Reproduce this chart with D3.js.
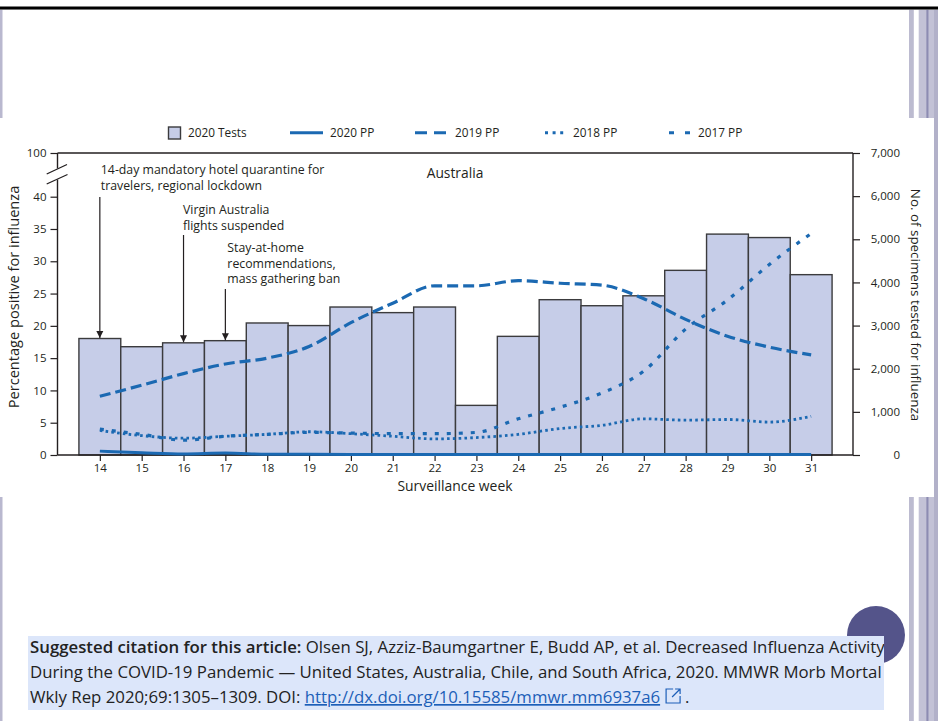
<!DOCTYPE html>
<html>
<head>
<meta charset="utf-8">
<script src="https://cdn.jsdelivr.net/npm/d3@7"></script>
<style>
  html, body { margin: 0; padding: 0; background: #fff; }
  svg { display: block; }
  text { font-family: "Open Sans", "Noto Sans", sans-serif; }
</style>
</head>
<body>
<svg id="page" width="938" height="721"></svg>
<script>
// Surveillance weeks and weekly series (Australia, 2017–2020)
const weeks = [14, 15, 16, 17, 18, 19, 20, 21, 22, 23, 24, 25, 26, 27, 28, 29, 30, 31];
const tests2020 = [2700, 2510, 2600, 2650, 3060, 3000, 3430, 3300, 3430, 1150, 2750, 3600, 3460, 3690, 4280, 5120, 5040, 4180];
const pp2020 = [0.6, 0.35, 0.15, 0.3, 0.12, 0.1, 0.08, 0.08, 0.08, 0.08, 0.08, 0.08, 0.08, 0.08, 0.08, 0.08, 0.08, 0.08];
const pp2019 = [9.1, 10.8, 12.6, 14.1, 15.0, 16.8, 20.5, 23.5, 26.2, 26.2, 27.0, 26.6, 26.3, 24.2, 21.0, 18.4, 16.7, 15.5];
const pp2018 = [3.8, 3.0, 2.6, 2.9, 3.2, 3.6, 3.3, 2.9, 2.5, 2.7, 3.2, 4.1, 4.6, 5.6, 5.4, 5.5, 5.1, 6.0];
const pp2017 = [4.0, 3.2, 2.3, 2.9, 3.2, 3.5, 3.4, 3.3, 3.3, 3.5, 5.6, 7.4, 9.6, 13.0, 19.5, 24.0, 29.5, 34.3];
const leftTicks = [0, 5, 10, 15, 20, 25, 30, 35, 40, 100];
const rightTicks = [0, 1000, 2000, 3000, 4000, 5000, 6000, 7000];
const legendLabels = ["2020 Tests", "2020 PP", "2019 PP", "2018 PP", "2017 PP"];
const events = [
  { week: 14, lines: ["14-day mandatory hotel quarantine for", "travelers, regional lockdown"] },
  { week: 16, lines: ["Virgin Australia", "flights suspended"] },
  { week: 17, lines: ["Stay-at-home", "recommendations,", "mass gathering ban"] }
];

const BLUE = "#1b69b2";
const BAR_FILL = "#c6cde8";
const INK = "#231f20";

const svg = d3.select("#page");

// ---------- slide decoration ----------
svg.append("rect").attr("x", 0).attr("y", 0).attr("width", 938).attr("height", 721).attr("fill", "#fff");
svg.append("rect").attr("x", 0).attr("y", 9).attr("width", 2.5).attr("height", 712).attr("fill", "#b9b8cf");
const rails = [
  { x: 909, w: 4.8, c: "#bcbbd0" },
  { x: 918.7, w: 7.5, c: "#c3c2d6" },
  { x: 926.2, w: 2.6, c: "#8d8cb2" },
  { x: 928.8, w: 5.2, c: "#c3c2d6" },
  { x: 934, w: 4, c: "#b2b1c9" }
];
rails.forEach(r => svg.append("rect").attr("x", r.x).attr("y", 9).attr("width", r.w).attr("height", 712).attr("fill", r.c));
svg.append("rect").attr("x", 0).attr("y", 6.5).attr("width", 938).attr("height", 2.6).attr("fill", "#000");
svg.append("rect").attr("x", 0).attr("y", 9.1).attr("width", 938).attr("height", 0.9).attr("fill", "#666");

// chart panel
svg.append("rect").attr("x", 0).attr("y", 118).attr("width", 934).attr("height", 379).attr("fill", "#fff");

// ---------- scales ----------
const x = d3.scaleLinear().domain([13, 32]).range([58, 853]);
const yL = d3.scaleLinear().domain([0, 40, 100]).range([455, 196.7, 153]);
const yR = d3.scaleLinear().domain([0, 7000]).range([455, 153]);
const step = x(15) - x(14);
const frameL = 57.5, frameR = 853, frameT = 153, frameB = 455;

const g = svg.append("g");

// bars: specimens tested
g.selectAll("rect.bar").data(weeks).join("rect")
  .attr("class", "bar")
  .attr("x", (w) => x(w) - step / 2)
  .attr("width", step)
  .attr("y", (w, i) => yR(tests2020[i]))
  .attr("height", (w, i) => yR(0) - yR(tests2020[i]))
  .attr("fill", BAR_FILL)
  .attr("stroke", "#3b3b3d")
  .attr("stroke-width", 1.4);

// ---------- axes ----------
const axisStyle = sel => {
  sel.selectAll("text").attr("font-size", 11.5).attr("fill", INK);
  sel.selectAll("line").attr("stroke", INK).attr("stroke-width", 1.2);
};

const gl = g.append("g").attr("transform", `translate(${frameL},0)`)
  .call(d3.axisLeft(yL).tickValues(leftTicks).tickSize(7).tickPadding(4));
gl.select(".domain").remove();
axisStyle(gl);

const gr = g.append("g").attr("transform", `translate(${frameR},0)`)
  .call(d3.axisRight(yR).tickValues(rightTicks).tickSize(7).tickFormat(d3.format(",")));
gr.select(".domain").remove();
gr.selectAll("text").attr("text-anchor", "end").attr("x", 47);
axisStyle(gr);

const gb = g.append("g").attr("transform", `translate(0,${frameB})`)
  .call(d3.axisBottom(x).tickValues(weeks).tickSize(6).tickPadding(3).tickFormat(d3.format("d")));
gb.select(".domain").remove();
axisStyle(gb);

// frame lines
const frame = [
  [frameL, frameT, frameR, frameT],
  [frameR, frameT, frameR, frameB],
  [frameL, frameB, frameR, frameB],
  [frameL, frameT, frameL, 168.5],
  [frameL, 179.5, frameL, frameB]
];
frame.forEach(([x1, y1, x2, y2]) => g.append("line")
  .attr("x1", x1).attr("y1", y1).attr("x2", x2).attr("y2", y2)
  .attr("stroke", INK).attr("stroke-width", 1.4));

// axis break marks
[[46.7, 174, 67, 164.5], [46.7, 184, 67.5, 174.5]].forEach(([x1, y1, x2, y2]) =>
  g.append("line").attr("x1", x1).attr("y1", y1).attr("x2", x2).attr("y2", y2)
    .attr("stroke", INK).attr("stroke-width", 1.3));

// ---------- percentage-positive lines ----------
const line = d3.line().x((d) => x(d[0])).y((d) => yL(d[1])).curve(d3.curveMonotoneX);
const series = [
  { values: pp2017, dash: "4,8", width: 3.2 },
  { values: pp2018, dash: "2.6,3.2", width: 2.8 },
  { values: pp2019, dash: "11,5", width: 3.2 },
  { values: pp2020, dash: null, width: 3 }
];
series.forEach(s => {
  g.append("path")
    .datum(weeks.map((w, i) => [w, s.values[i]]))
    .attr("d", line)
    .attr("fill", "none")
    .attr("stroke", BLUE)
    .attr("stroke-width", s.width)
    .attr("stroke-dasharray", s.dash);
});

// ---------- axis titles and panel title ----------
g.append("text").attr("transform", "translate(19,297) rotate(-90)")
  .attr("text-anchor", "middle").attr("font-size", 14.6).attr("fill", INK)
  .text("Percentage positive for influenza");
g.append("text").attr("transform", "translate(911,305) rotate(90)")
  .attr("text-anchor", "middle").attr("font-size", 13.4).attr("fill", INK)
  .text("No. of specimens tested for influenza");
g.append("text").attr("x", 455).attr("y", 491)
  .attr("text-anchor", "middle").attr("font-size", 13.9).attr("fill", INK)
  .text("Surveillance week");
g.append("text").attr("x", 455).attr("y", 178)
  .attr("text-anchor", "middle").attr("font-size", 13.8).attr("fill", INK)
  .text("Australia");

// ---------- event annotations ----------
const defs = svg.append("defs");
defs.append("marker").attr("id", "arrowhead")
  .attr("viewBox", "0 0 10 10").attr("refX", 10).attr("refY", 5)
  .attr("markerWidth", 7).attr("markerHeight", 9).attr("markerUnits", "userSpaceOnUse")
  .attr("orient", "auto")
  .append("path").attr("d", "M0,0 L10,5 L0,10 Z").attr("fill", INK);

const eventLayout = [
  { dx: 1, y0: 174, y1: 197 },
  { dx: -0.5, y0: 214, y1: 235 },
  { dx: 2, y0: 252, y1: 289 }
];
events.forEach((ev, k) => {
  const L = eventLayout[k];
  const i = weeks.indexOf(ev.week);
  const t = g.append("text").attr("font-size", 12.3).attr("fill", INK);
  ev.lines.forEach((s, j) => t.append("tspan").attr("x", x(ev.week) + L.dx).attr("y", L.y0 + j * 15.5).text(s));
  g.append("line")
    .attr("x1", x(ev.week)).attr("y1", L.y1)
    .attr("x2", x(ev.week)).attr("y2", yR(tests2020[i]) - 0.5)
    .attr("stroke", INK).attr("stroke-width", 1.2)
    .attr("marker-end", "url(#arrowhead)");
});

// ---------- legend ----------
const lg = g.append("g").attr("font-size", 11.8).attr("fill", INK);
lg.append("rect").attr("x", 168.5).attr("y", 127).attr("width", 12).attr("height", 12)
  .attr("fill", BAR_FILL).attr("stroke", "#3b3b3d").attr("stroke-width", 1.4);
const legendItems = [
  { x0: 188, label: legendLabels[0] },
  { x0: 290, x1: 323, tx: 330, dash: null, label: legendLabels[1] },
  { x0: 415, x1: 447, tx: 455, dash: "12,7", label: legendLabels[2] },
  { x0: 545, x1: 567, tx: 573, dash: "3,4.6", label: legendLabels[3] },
  { x0: 669, x1: 690, tx: 698, dash: "5,11", label: legendLabels[4] }
];
legendItems.forEach((it, k) => {
  if (k > 0) {
    lg.append("line").attr("x1", it.x0).attr("x2", it.x1).attr("y1", 132.7).attr("y2", 132.7)
      .attr("stroke", BLUE).attr("stroke-width", 3).attr("stroke-dasharray", it.dash);
  }
  lg.append("text").attr("x", k > 0 ? it.tx : it.x0).attr("y", 137).attr("fill", INK).text(it.label);
});

// ---------- citation ----------
svg.append("circle").attr("cx", 876).attr("cy", 635).attr("r", 29).attr("fill", "#54548a");
svg.append("rect").attr("x", 28).attr("y", 636).attr("width", 856).attr("height", 74).attr("fill", "#dce6fa");
defs.append("clipPath").attr("id", "citeClip")
  .append("rect").attr("x", 28).attr("y", 630).attr("width", 856).attr("height", 85);
const cite = svg.append("g").attr("clip-path", "url(#citeClip)").attr("font-size", 16.8).attr("fill", "#222");
const l1 = cite.append("text").attr("x", 30).attr("y", 653);
l1.append("tspan").attr("font-weight", 600).text("Suggested citation for this article:");
l1.append("tspan").text(" Olsen SJ, Azziz-Baumgartner E, Budd AP, et al. Decreased Influenza Activity");
cite.append("text").attr("x", 30).attr("y", 678)
  .text("During the COVID-19 Pandemic \u2014 United States, Australia, Chile, and South Africa, 2020. MMWR Morb Mortal");
const l3 = cite.append("text").attr("x", 30).attr("y", 703);
l3.append("tspan").text("Wkly Rep 2020;69:1305\u20131309. DOI: ");
l3.append("tspan").attr("fill", "#1d5fb8").attr("text-decoration", "underline")
  .text("http://dx.doi.org/10.15585/mmwr.mm6937a6");
const l3box = l3.node().getBBox();
const ix = l3box.x + l3box.width + 6;
const icon = cite.append("g").attr("fill", "none").attr("stroke", "#1d5fb8").attr("stroke-width", 1.2);
icon.append("path").attr("d", `M${ix + 7},${689} H${ix} V${703} H${ix + 14} V${696}`);
icon.append("path").attr("d", `M${ix + 6},${697} L${ix + 14},${689} M${ix + 9},${689} H${ix + 14} V${694}`);
cite.append("text").attr("x", ix + 19).attr("y", 703).text(".");
</script>
</body>
</html>
